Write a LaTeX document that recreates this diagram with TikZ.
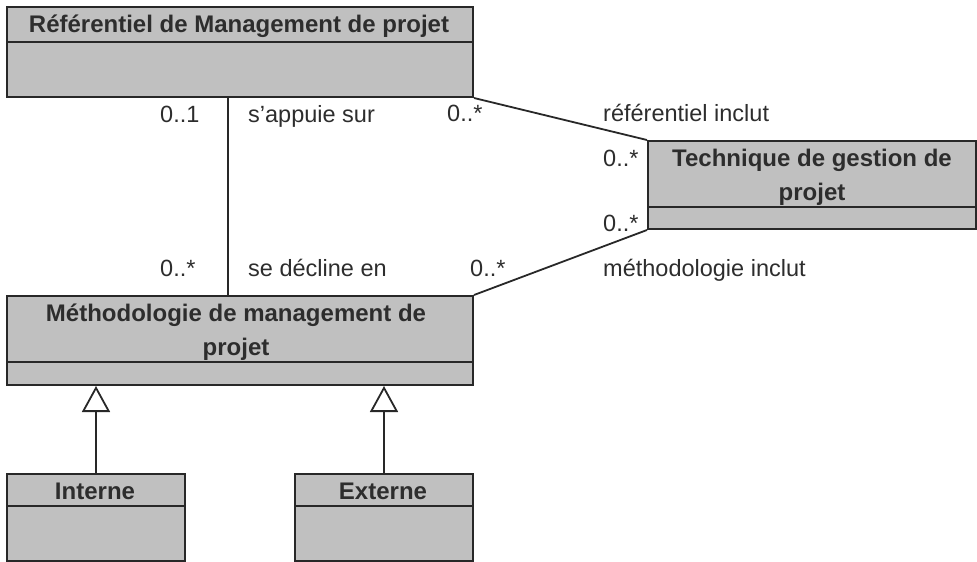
\documentclass[tikz,border=0pt]{standalone}
\usepackage{fontspec}
\setmainfont{Liberation Sans}
\usetikzlibrary{arrows.meta,calc}
\definecolor{boxfill}{RGB}{192,192,192}
\definecolor{edge}{RGB}{40,40,40}
\definecolor{ink}{RGB}{45,45,45}
\tikzset{
  cls/.style={draw=edge, fill=boxfill, line width=2pt, rectangle, inner sep=0pt, anchor=north west},
  sep/.style={draw=edge, line width=2pt},
  title/.style={font=\fontsize{24}{34}\selectfont\bfseries, text=ink, align=center, inner sep=0pt},
  lbl/.style={font=\fontsize{23.5}{28}\selectfont, text=ink, inner sep=0pt, anchor=base west},
  assoc/.style={draw=edge, line width=1.8pt},
  gen/.style={draw=edge, line width=1.8pt, -{Triangle[open, length=26pt, width=28pt, fill=white]}}
}
\begin{document}
\begin{tikzpicture}[x=1pt, y=-1pt]
\useasboundingbox (0,0) rectangle (977,562);
% classes
\node[cls, minimum width=466pt, minimum height=90pt] (ref) at (6,6) {};
\draw[sep] ($(ref.north west)+(0,36)$) -- ($(ref.north east)+(0,36)$);
\node[title, anchor=base] (reft) at (239,32) {Référentiel de Management de projet};

\node[cls, minimum width=328pt, minimum height=88pt] (tech) at (647,140) {};
\draw[sep] ($(tech.north west)+(0,67)$) -- ($(tech.north east)+(0,67)$);
\node[title] (techt) at (812,177) {Technique de gestion de\\projet};

\node[cls, minimum width=466pt, minimum height=89pt] (meth) at (6,295) {};
\draw[sep] ($(meth.north west)+(0,67)$) -- ($(meth.north east)+(0,67)$);
\node[title] (metht) at (236,332) {Méthodologie de management de\\projet};

\node[cls, minimum width=178pt, minimum height=87pt] (int) at (6,473) {};
\draw[sep] ($(int.north west)+(0,33)$) -- ($(int.north east)+(0,33)$);
\node[title, anchor=base] (intt) at (95,499) {Interne};

\node[cls, minimum width=178pt, minimum height=87pt] (ext) at (294,473) {};
\draw[sep] ($(ext.north west)+(0,33)$) -- ($(ext.north east)+(0,33)$);
\node[title, anchor=base] (extt) at (383,499) {Externe};

% associations
\draw[assoc] ($(ref.south west)+(222,0)$) -- ($(meth.north west)+(222,0)$);
\draw[assoc] (ref.south east) -- (tech.north west);
\draw[assoc] (tech.south west) -- (meth.north east);
% generalizations
\draw[gen] (int.north) -- (int.north |- meth.south);
\draw[gen] (ext.north) -- (ext.north |- meth.south);

% labels
\node[lbl] (l1) at (160,122) {0..1};
\node[lbl] (l2) at (248,122) {s'appuie sur};
\node[lbl] (l3) at (447,121) {0..*};
\node[lbl] (l4) at (603,121) {référentiel inclut};
\node[lbl] (l5) at (603,166) {0..*};
\node[lbl] (l6) at (603,231) {0..*};
\node[lbl] (l7) at (160,276) {0..*};
\node[lbl] (l8) at (248,276) {se décline en};
\node[lbl] (l9) at (470,276) {0..*};
\node[lbl] (l10) at (603,276) {méthodologie inclut};
\end{tikzpicture}
\end{document}
